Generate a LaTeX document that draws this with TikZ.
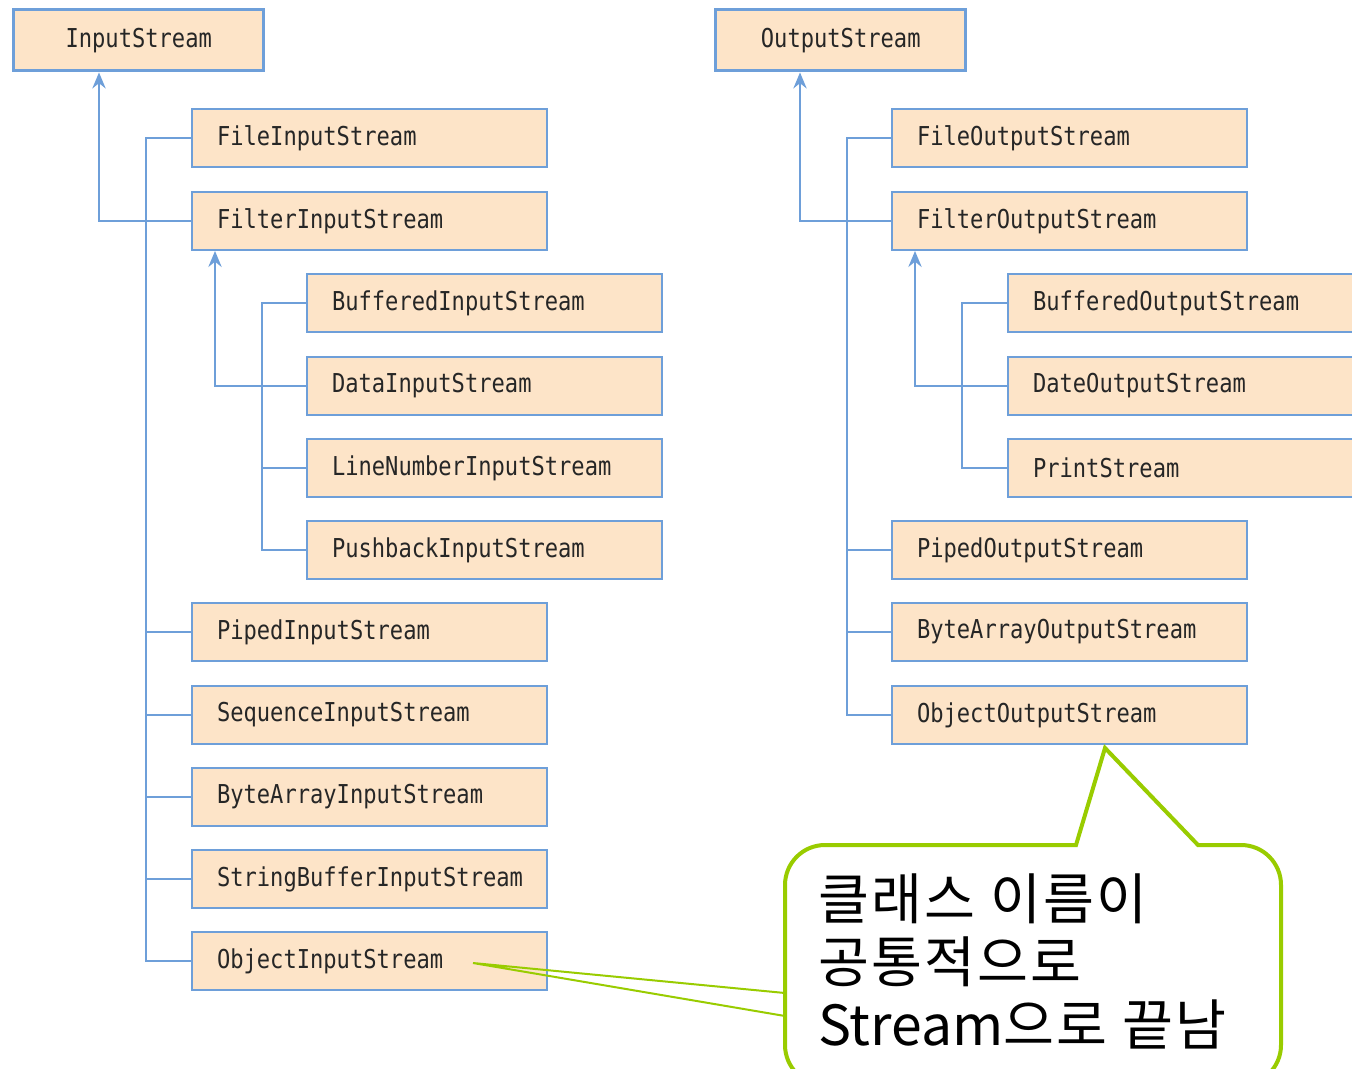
\documentclass[tikz,border=0pt]{standalone}
\usepackage{fontspec}
\usetikzlibrary{arrows.meta}
\newfontfamily\clsfont{DejaVu Sans Mono}[FakeStretch=0.85]
\newfontfamily\kofont{Noto Sans CJK KR}[LetterSpace=4]
\definecolor{boxblue}{HTML}{6E9FD9}
\definecolor{boxfill}{HTML}{FDE4C8}
\definecolor{notegreen}{HTML}{99CC00}

\begin{document}
\begin{tikzpicture}[x=0.75pt,y=-0.75pt,
	cls/.style={draw=boxblue, fill=boxfill, line width=1.5pt, anchor=north west,
	minimum height=43.5pt, inner xsep=18.75pt, text width=228.75pt, align=left,
	font=\clsfont\fontsize{19.5}{23}\selectfont, text=black!85},
	root/.style={cls, line width=2.6pt, minimum height=45.75pt, text width=150pt, align=center},
	link/.style={draw=boxblue, line width=1.5pt},
	note/.style={draw=notegreen, line width=3pt},
	>={Stealth[length=12pt,width=10pt,inset=4pt]}]

\useasboundingbox (0,0) rectangle (1352,1068);
\clip (0,0) rectangle (1352,1068);
\fill[white] (0,0) rectangle (1352,1068);

% input side
\node[root] at (12,8) (InStream) {InputStream};
\node[cls] at (191,108) (FileIn) {FileInputStream};
\node[cls] at (191,191) (FilterIn) {FilterInputStream};
\node[cls] at (306,273) (BufferedIn) {BufferedInputStream};
\node[cls] at (306,356) (DataIn) {DataInputStream};
\node[cls] at (306,438) (LineIn) {LineNumberInputStream};
\node[cls] at (306,520) (PushIn) {PushbackInputStream};
\node[cls] at (191,602) (PipedIn) {PipedInputStream};
\node[cls] at (191,685) (SeqIn) {SequenceInputStream};
\node[cls] at (191,767) (ByteIn) {ByteArrayInputStream};
\node[cls] at (191,849) (StrIn) {StringBufferInputStream};
\node[cls] at (191,931) (ObjIn) {ObjectInputStream};

\draw[link] (FileIn.west) -- ++(-45,0) |- (ObjIn.west);
\draw[link] (PipedIn.west) -- ++(-45,0);
\draw[link] (SeqIn.west) -- ++(-45,0);
\draw[link] (ByteIn.west) -- ++(-45,0);
\draw[link] (StrIn.west) -- ++(-45,0);
\draw[link,->] (FilterIn.west) -| ([xshift=65.25pt]InStream.south west);
\draw[link] (BufferedIn.west) -- ++(-44,0) |- (PushIn.west);
\draw[link] (LineIn.west) -- ++(-44,0);
\draw[link,->] (DataIn.west) -| ([xshift=18pt]FilterIn.south west);

% output side
\node[root] at (714,8) (OutStream) {OutputStream};
\node[cls] at (891,108) (FileOut) {FileOutputStream};
\node[cls] at (891,191) (FilterOut) {FilterOutputStream};
\node[cls] at (1007,273) (BufferedOut) {BufferedOutputStream};
\node[cls] at (1007,356) (DateOut) {DateOutputStream};
\node[cls] at (1007,438) (Print) {PrintStream};
\node[cls] at (891,520) (PipedOut) {PipedOutputStream};
\node[cls] at (891,602) (ByteOut) {ByteArrayOutputStream};
\node[cls] at (891,685) (ObjOut) {ObjectOutputStream};

\draw[link] (FileOut.west) -- ++(-44,0) |- (ObjOut.west);
\draw[link] (PipedOut.west) -- ++(-44,0);
\draw[link] (ByteOut.west) -- ++(-44,0);
\draw[link,->] (FilterOut.west) -| ([xshift=64.5pt]OutStream.south west);
\draw[link] (BufferedOut.west) -- ++(-45,0) |- (Print.west);
\draw[link,->] (DateOut.west) -| ([xshift=18pt]FilterOut.south west);

% callout
\draw[note, fill=white] (1105,748) -- (1198,845) -- (1241,845) arc(-90:0:40)
	-- (1281,1045) arc(0:90:40) -- (825,1085) arc(90:180:40)
	-- (785,885) arc(180:270:40) -- (1076,845) -- cycle;
\node[anchor=north west, inner sep=0, align=left,
	font=\kofont\fontsize{41.5}{47.3}\selectfont] at (818,873) (memo)
	{클래스 이름이\\공통적으로\\{\addfontfeature{LetterSpace=0}Stream}으로 끝남};
\coordinate (tip) at (473,963);
\coordinate (lineA) at (785,993);
\coordinate (lineB) at (785,1016);
\draw[notegreen, line width=1.5pt] (lineA) -- (tip) -- (lineB);
\end{tikzpicture}
\end{document}
